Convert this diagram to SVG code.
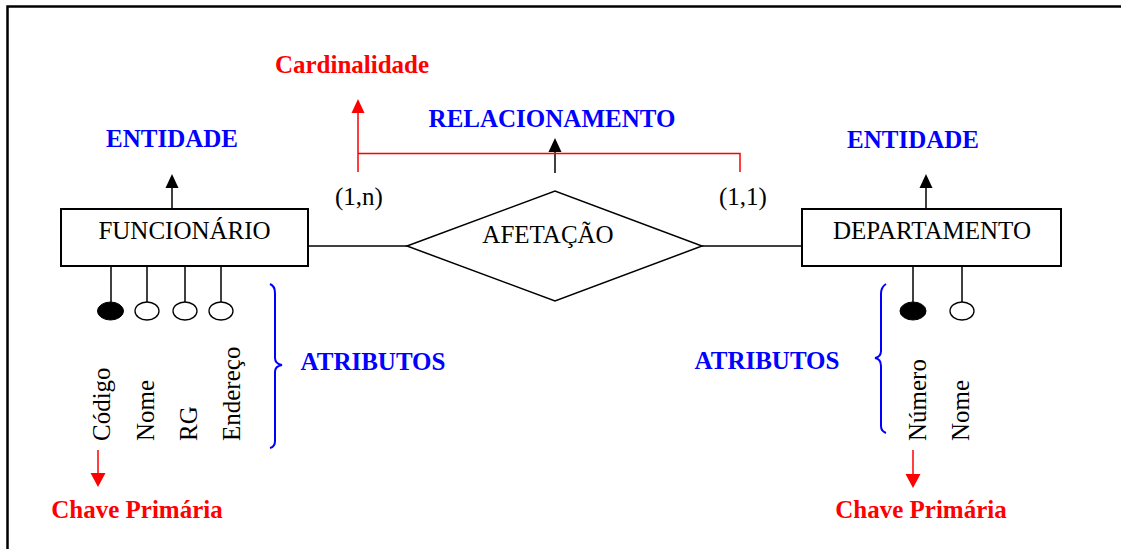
<svg xmlns="http://www.w3.org/2000/svg" width="1121" height="549" viewBox="0 0 1121 549">
<style>
.t{font-family:"Liberation Serif","Times New Roman",serif;font-size:25px;fill:#000}
.b{font-family:"Liberation Serif","Times New Roman",serif;font-size:25px;font-weight:bold}
.blue{fill:#0000ff}
.red{fill:#ff0000}
.ln{stroke:#000;stroke-width:1.5;fill:none}
.box{stroke:#000;stroke-width:2;fill:#fff}
.rl{stroke:#ff0000;stroke-width:1.5;fill:none}
.br{stroke:#0000ff;stroke-width:2;fill:none}
</style>
<rect width="1121" height="549" fill="#fff"/>
<path d="M7.5,549 V6.5 H1121" stroke="#000" stroke-width="2.5" fill="none"/>

<g id="connectors">
  <line class="ln" x1="308" y1="246" x2="407" y2="246"/>
  <line class="ln" x1="702" y1="246" x2="802" y2="246"/>
  <line class="ln" x1="172" y1="209" x2="172" y2="186"/>
  <polygon points="172,174 165.5,188 178.5,188" fill="#000"/>
  <line class="ln" x1="926" y1="209" x2="926" y2="186"/>
  <polygon points="926,174 919.5,188 932.5,188" fill="#000"/>
  <line class="ln" x1="555" y1="173" x2="555" y2="150"/>
  <polygon points="555,138 548.5,152 561.5,152" fill="#000"/>
  <path class="rl" d="M358,172 V111 M358,153.5 H740 V172"/>
  <polygon points="358,99 351.5,113 364.5,113" fill="#ff0000"/>
  <line class="ln" x1="111" y1="266" x2="111" y2="302"/>
  <line class="ln" x1="147" y1="266" x2="147" y2="302"/>
  <line class="ln" x1="185" y1="266" x2="185" y2="302"/>
  <line class="ln" x1="221" y1="266" x2="221" y2="302"/>
  <line class="ln" x1="913" y1="266" x2="913" y2="302"/>
  <line class="ln" x1="962" y1="266" x2="962" y2="302"/>
  <line class="rl" x1="98" y1="450" x2="98" y2="475"/>
  <polygon points="98,487 90.5,473 105.5,473" fill="#ff0000"/>
  <line class="rl" x1="913" y1="450" x2="913" y2="476"/>
  <polygon points="913,488 905.5,474 920.5,474" fill="#ff0000"/>
</g>

<g id="funcionario">
  <rect class="box" x="61" y="209" width="247" height="57"/>
  <text class="t" x="184.5" y="239" text-anchor="middle">FUNCIONÁRIO</text>
</g>
<g id="departamento">
  <rect class="box" x="802" y="209" width="259" height="57"/>
  <text class="t" x="932" y="239" text-anchor="middle">DEPARTAMENTO</text>
</g>
<g id="afetacao">
  <polygon class="ln" points="407,246 555,191 702,246 555,301" fill="#fff"/>
  <text class="t" x="548" y="243" text-anchor="middle">AFETAÇÃO</text>
</g>

<g id="attr-codigo">
  <ellipse cx="110.5" cy="311" rx="13" ry="9" fill="#000" stroke="#000" stroke-width="1"/>
  <text class="t" transform="translate(110,441) rotate(-90)">Código</text>
</g>
<g id="attr-nome">
  <ellipse cx="147" cy="311" rx="12" ry="9" fill="#fff" stroke="#000" stroke-width="1.3"/>
  <text class="t" transform="translate(154,441) rotate(-90)">Nome</text>
</g>
<g id="attr-rg">
  <ellipse cx="185" cy="311" rx="12" ry="9" fill="#fff" stroke="#000" stroke-width="1.3"/>
  <text class="t" transform="translate(197,441) rotate(-90)">RG</text>
</g>
<g id="attr-endereco">
  <ellipse cx="221" cy="311" rx="12" ry="9" fill="#fff" stroke="#000" stroke-width="1.3"/>
  <text class="t" transform="translate(240,441) rotate(-90)">Endereço</text>
</g>
<g id="attr-numero">
  <ellipse cx="913" cy="311" rx="13" ry="9" fill="#000" stroke="#000" stroke-width="1"/>
  <text class="t" transform="translate(926,441) rotate(-90)">Número</text>
</g>
<g id="attr-nome2">
  <ellipse cx="962" cy="311" rx="12" ry="9" fill="#fff" stroke="#000" stroke-width="1.3"/>
  <text class="t" transform="translate(969,441) rotate(-90)">Nome</text>
</g>

<g id="labels">
  <text class="b blue" x="172" y="147" text-anchor="middle">ENTIDADE</text>
  <text class="b blue" x="913" y="148" text-anchor="middle">ENTIDADE</text>
  <text class="b red" x="352" y="73" text-anchor="middle">Cardinalidade</text>
  <text class="b blue" x="552" y="127" text-anchor="middle">RELACIONAMENTO</text>
  <text class="t" x="359" y="205" text-anchor="middle">(1,n)</text>
  <text class="t" x="743" y="205" text-anchor="middle">(1,1)</text>
  <text class="b blue" x="373" y="370" text-anchor="middle">ATRIBUTOS</text>
  <text class="b blue" x="767" y="369" text-anchor="middle">ATRIBUTOS</text>
  <text class="b red" x="137" y="518" text-anchor="middle">Chave Primária</text>
  <text class="b red" x="921" y="518" text-anchor="middle">Chave Primária</text>
</g>

<g id="braces">
  <path class="br" d="M270,284 Q275,286 275,293 V358 Q275,364 282,365 Q275,366 275,372 V441 Q275,447 270,448"/>
  <path class="br" d="M886,284 Q881,287 881,294 V351 Q881,357 875,358 Q881,359 881,366 V426 Q881,431 886,433"/>
</g>
</svg>
